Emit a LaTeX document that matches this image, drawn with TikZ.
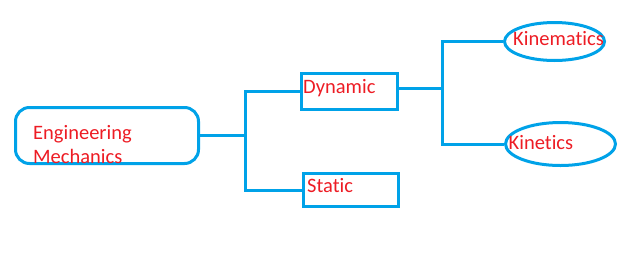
\documentclass[tikz,border=0pt]{standalone}
\usepackage{fontspec}
\setmainfont[Ligatures=NoCommon]{Carlito}
\usepackage{xcolor}
\usetikzlibrary{shapes.geometric, positioning, calc}
\definecolor{pblue}{RGB}{0,162,232}
\definecolor{pred}{RGB}{237,28,36}

\begin{document}
\begin{tikzpicture}[
    x=1pt, y=-1pt,
    blk/.style={rectangle, draw=pblue, line width=3pt, inner sep=0pt},
    rblk/.style={blk, rounded corners=14pt},
    ell/.style={ellipse, draw=pblue, line width=3pt, inner sep=0pt},
    txt/.style={anchor=base west, inner sep=0pt, text=pred, font=\fontsize{20.5}{24}\selectfont},
    e/.style={draw=pblue, line width=3pt},
]
    \useasboundingbox (0,0) rectangle (636,255);
    \node[rblk, minimum width=183pt, minimum height=56pt] (mech) at (107,135.5) {};
    \node[blk, minimum width=96pt, minimum height=36pt] (dyn) at (349.5,91.5) {};
    \node[blk, minimum width=95pt, minimum height=33pt] (stat) at (351,190) {};
    \node[ell, minimum width=100pt, minimum height=38pt] (kmat) at (554.5,41.5) {};
    \node[ell, minimum width=110pt, minimum height=43pt] (kin) at (560.5,144) {};
    \node[txt] (mech-t1) at (33,139.5) {Engineering};
    \node[txt] (mech-t2) at (33,163) {Mechanics};
    \node[txt] (dyn-t) at (303,93.5) {Dynamic};
    \node[txt] (stat-t) at (307,192.5) {Static};
    \node[txt] (kmat-t) at (513,45) {Kinematics};
    \node[txt] (kin-t) at (508.5,149.5) {Kinetics};
    \coordinate (fork1) at (245,135.5);
    \coordinate (fork2) at (442,88);
    \draw[e] (mech.east) -- (fork1);
    \draw[e] (fork1) |- (dyn.west);
    \draw[e] (fork1) |- (stat.west);
    \draw[e] ([yshift=3.5pt]dyn.east) -- (fork2);
    \draw[e] (fork2) |- (kmat.west);
    \draw[e] (fork2) |- (kin.west);
\end{tikzpicture}
\end{document}
